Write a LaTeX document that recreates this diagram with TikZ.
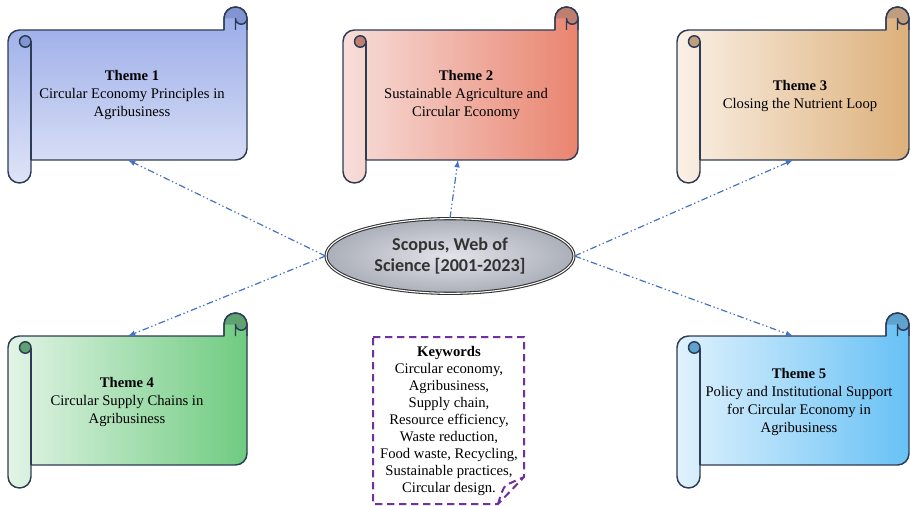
\documentclass[tikz,border=0pt]{standalone}
\usepackage{fontspec}
\setmainfont{Liberation Serif}
\newfontfamily\calib{Carlito}
\usetikzlibrary{positioning,shapes.geometric}
\definecolor{outl}{HTML}{2E3B55}
\definecolor{linkblue}{HTML}{4472C4}
\definecolor{kwpurple}{HTML}{7030A0}
\definecolor{oneA}{HTML}{98AAE8}\definecolor{oneB}{HTML}{DFE4F7}\definecolor{oneK}{HTML}{8394D2}
\definecolor{twoA}{HTML}{F7DEDA}\definecolor{twoB}{HTML}{E9846F}\definecolor{twoK}{HTML}{BF7F70}
\definecolor{thrA}{HTML}{FAF0E6}\definecolor{thrB}{HTML}{DDB07A}\definecolor{thrK}{HTML}{BE9E7E}
\definecolor{fouA}{HTML}{E2F4E6}\definecolor{fouB}{HTML}{6FCB80}\definecolor{fouK}{HTML}{5FA272}
\definecolor{fivA}{HTML}{E0F2FD}\definecolor{fivB}{HTML}{67C1F5}\definecolor{fivK}{HTML}{5DA3CD}
\definecolor{srcin}{HTML}{E2E4EA}\definecolor{srcout}{HTML}{ABAFB9}
\definecolor{srctext}{HTML}{333333}
\tikzset{
  scrollline/.style={draw=outl, line width=1.1pt, line join=round},
  theme/.style={align=center, inner sep=0pt, font=\fontsize{11}{13.5}\selectfont},
  srcnode/.style={ellipse, draw=srctext, line width=0.8pt, double=white, double distance=0.8pt,
    inner color=srcin, outer color=srcout, minimum width=186pt, minimum height=56pt,
    align=center, text=srctext, font=\calib\bfseries\fontsize{13.6}{15.5}\selectfont},
  link/.style={-latex, draw=linkblue, line width=0.9pt,
    dash pattern=on 5pt off 2pt on 1pt off 2pt on 1pt off 2pt},
  kwbox/.style={draw=kwpurple, line width=1.5pt, dash pattern=on 5.5pt off 3.5pt}
}
\newcommand{\scroll}[6]{%
  \path[scrollline,#5] (#1,#4-11.5) -- (#1,#2+34.5) arc[start angle=180,end angle=270,radius=11.5]
    -- (#3-23,#2+23) -- (#3-23,#2+11.5) arc[start angle=180,end angle=360,radius=11.5]
    -- (#3,#4-34.5) arc[start angle=0,end angle=90,radius=11.5] -- (#1+23,#4-23)
    -- (#1+23,#4-11.5) arc[start angle=0,end angle=180,radius=11.5] -- cycle;
  \fill[#6] (#3-23,#2+11.5) arc[start angle=180,end angle=360,radius=11.5]
    arc[start angle=0,end angle=180,radius=5.75] -- cycle;
  \draw[scrollline] (#3-23,#2+23) -- (#3-23,#2+11.5) arc[start angle=180,end angle=360,radius=11.5] -- (#3,#2+23);
  \draw[scrollline] (#3-11.5,#2+23) -- (#3-11.5,#2+11.5) arc[start angle=180,end angle=0,radius=5.75];
  \filldraw[scrollline, fill=#6] (#1+17.25,#2+34.5) circle[radius=5.75];
  \draw[scrollline] (#1+23,#2+34.5) -- (#1+23,#4-23);
}

\begin{document}
\begin{tikzpicture}[x=0.75pt, y=-0.75pt]
  \useasboundingbox (0,0) rectangle (910,506);

  \scroll{8}{7}{247}{183}{top color=oneA, bottom color=oneB}{oneK}
  \scroll{343}{7}{578}{183}{left color=twoA, right color=twoB}{twoK}
  \scroll{677}{7}{909}{183}{left color=thrA, right color=thrB}{thrK}
  \scroll{8}{313}{247}{488}{left color=fouA, right color=fouB}{fouK}
  \scroll{677}{313}{909}{488}{left color=fivA, right color=fivB}{fivK}

  \node[theme] (th1) at (132, 95) {\textbf{Theme 1}\\Circular Economy Principles in\\Agribusiness};
  \node[theme] (th2) at (466, 95) {\textbf{Theme 2}\\Sustainable Agriculture and\\Circular Economy};
  \node[theme] (th3) at (800, 96) {\textbf{Theme 3}\\Closing the Nutrient Loop};
  \node[theme] (th4) at (127, 402) {\textbf{Theme 4}\\Circular Supply Chains in\\Agribusiness};
  \node[theme] (th5) at (799, 402) {\textbf{Theme 5}\\Policy and Institutional Support\\for Circular Economy in\\Agribusiness};

  \node[srcnode] (src) at (450, 256) {Scopus, Web of\\Science [2001-2023]};

  \coordinate (in1) at (128, 160);
  \coordinate (in2) at (458, 160);
  \coordinate (in3) at (793, 160);
  \coordinate (in4) at (128, 336);
  \coordinate (in5) at (793, 336);
  \draw[link] (src.west) -- (in1);
  \draw[link] (src.north) -- (in2);
  \draw[link] (src.east) -- (in3);
  \draw[link] (src.west) -- (in4);
  \draw[link] (src.east) -- (in5);

  \draw[kwbox] (373, 337) -- (524, 337) -- (524, 477) -- (498, 504) -- (373, 504) -- cycle;
  \draw[kwbox] (498, 504) .. controls (501, 494) and (503, 488) .. (506, 485) -- (524, 477);
  \node[theme, font=\fontsize{11}{12.8}\selectfont] (kw) at (449, 421)
    {\textbf{Keywords}\\Circular economy,\\Agribusiness,\\Supply chain,\\Resource efficiency,\\Waste reduction,\\Food waste, Recycling,\\Sustainable practices,\\Circular design.};
\end{tikzpicture}
\end{document}
